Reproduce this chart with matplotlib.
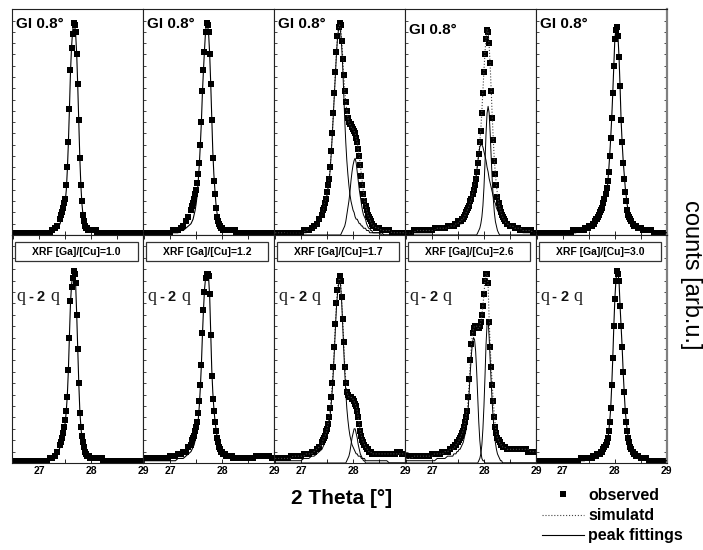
import numpy as np
import matplotlib
matplotlib.use('Agg')
import matplotlib.pyplot as plt
from matplotlib.patches import Rectangle
from matplotlib.lines import Line2D

plt.rcParams['font.family'] = ['Liberation Sans', 'DejaVu Sans']

# 2theta grid: 0.05 deg steps in the tails, 0.02 deg across the peak region
two_theta = np.round(np.r_[np.arange(26.50, 27.36, 0.05),
                           np.arange(27.40, 28.41, 0.02),
                           np.arange(28.45, 29.01, 0.05)], 2)

# intensities in % of each panel height (left tail / core / right tail)
# --- top row: GI 0.8 deg
obs_t1 = ([1] * 15 + [2, 3, 4]
          + [7, 9, 10, 12, 14, 16, 22, 30, 41, 56, 73, 83, 89, 94, 93, 90, 80, 67, 51, 34,
             22, 15, 9, 6, 4, 3, 3, 2, 2, 2, 2, 2, 2, 2, 2, 2] + [1] * 15
          + [1] * 12)
sim_t1 = ([1] * 15 + [2, 2, 3]
          + [5, 7, 8, 10, 12, 15, 20, 29, 41, 56, 72, 83, 90, 94, 93, 89, 80, 66, 50, 34,
             22, 14, 9, 6, 4, 3, 2, 2, 2, 2, 2, 2, 2, 2] + [1] * 17
          + [1] * 12)

obs_t2 = ([1] * 11 + [2, 2, 2, 3, 4, 6, 8]
          + [11, 13, 14, 16, 18, 20, 23, 27, 32, 40, 50, 64, 73, 81, 90, 94, 93, 90, 80, 67,
             51, 34, 24, 18, 12, 8, 6, 5, 4, 3, 3] + [2] * 12 + [1] * 8
          + [1] * 12)
sim_t2 = ([1] * 14 + [2, 2, 3, 4]
          + [5, 6, 7, 9, 11, 14, 18, 24, 31, 40, 50, 63, 73, 82, 90, 94, 93, 89, 80, 67,
             52, 37, 27, 20, 14, 10, 7, 6, 5, 4, 3, 3, 3] + [2] * 10 + [1] * 8
          + [1] * 12)

obs_t3 = ([1] * 11 + [2, 2, 2, 3, 4, 5, 7]
          + [9, 11, 12, 14, 16, 19, 22, 25, 30, 37, 45, 54, 63, 72, 81, 88, 92, 94, 93, 86,
             78, 71, 64, 59, 55, 52, 50, 49, 49, 48, 47, 46, 45, 43, 41, 38, 35, 31, 26, 22,
             18, 15, 13, 11, 9, 8, 7, 6, 5, 4, 4]
          + [3, 3, 2, 2, 2, 2, 1, 1, 1, 1, 1, 1])
sim_t3 = ([1] * 12 + [2, 2, 2, 3, 4, 6]
          + [8, 10, 12, 14, 16, 18, 21, 25, 30, 37, 45, 54, 63, 72, 81, 88, 92, 93, 92, 87,
             79, 71, 64, 59, 55, 52, 50, 49, 48, 47, 47, 46, 45, 43, 41, 38, 35, 31, 27, 23,
             19, 16, 13, 11, 9, 8, 7, 6, 5, 4, 4]
          + [3, 3, 2, 2, 2, 2, 1, 1, 1, 1, 1, 1])
pk1_t3 = ([0] * 4 + [1] * 9 + [2, 2, 3, 4, 6]
          + [8, 10, 11, 13, 15, 18, 21, 24, 29, 36, 44, 53, 62, 71, 80, 87, 91, 92, 90, 84,
             75, 63, 51, 41, 33, 27, 22, 18, 15, 13, 11, 10, 8, 7, 7, 6, 5, 5, 4, 4,
             3, 3, 3, 2, 2, 2, 1, 1, 1, 1, 1]
          + [1, 1, 1] + [0] * 9)
pk2_t3 = ([0] * 18
          + [0] * 19 + [1, 2, 3, 4, 6, 9, 12, 15, 19, 24, 28, 31, 33, 34, 32, 28, 24, 20, 17, 14,
                        11, 9, 8, 7, 5, 4, 3, 3, 2, 2, 1, 1]
          + [1, 1] + [0] * 10)

obs_t4 = ([1, 1, 1] + [2] * 8 + [3] * 5 + [4, 4]
          + [4, 4, 5, 5, 5, 6, 6, 6, 6, 7, 7, 8, 9, 10, 11, 12, 13, 15, 16, 18,
             20, 22, 25, 28, 32, 36, 41, 46, 54, 63, 72, 80, 87, 91, 90, 85, 76, 64, 52, 42,
             33, 27, 22, 17, 14, 12, 10, 9, 8, 7, 6]
          + [5, 4, 4, 3, 3, 2, 2, 2, 2, 2, 1, 1])
sim_t4 = ([1] * 4 + [2] * 8 + [3] * 5 + [4]
          + [4, 4, 4, 5, 5, 5, 6, 6, 6, 7, 7, 8, 9, 10, 11, 12, 13, 14, 16, 18,
             20, 22, 25, 28, 32, 36, 41, 47, 55, 64, 73, 81, 87, 91, 90, 84, 75, 64, 52, 42,
             33, 27, 22, 18, 15, 12, 11, 9, 8, 7, 6]
          + [5, 4, 4, 3, 3, 3, 2, 2, 2, 2, 1, 1])
pk1_t4 = ([1] * 11 + [2] * 5 + [3, 3]
          + [3, 3, 3, 4, 4, 4, 4, 5, 5, 5, 6, 6, 7, 8, 9, 10, 11, 12, 14, 16,
             18, 21, 24, 28, 32, 36, 39, 40, 40, 39, 37, 35, 33, 30, 28, 25, 23, 21, 19, 17,
             15, 14, 12, 11, 10, 9, 8, 7, 6, 5, 5]
          + [4, 3, 3, 2, 2, 2, 1, 1, 1, 1, 1, 1])
pk2_t4 = ([0] * 18
          + [0] * 24 + [1, 2, 3, 5, 8, 13, 21, 32, 45, 54, 57, 54, 45, 34, 24, 16, 10, 6, 4, 2, 1]
          + [0] * 6 + [0] * 12)

obs_t5 = ([1] * 14 + [2] * 4
          + [2, 3, 3, 3, 3, 4, 4, 4, 4, 5, 5, 6, 7, 7, 8, 9, 10, 11, 12, 14,
             16, 18, 21, 24, 28, 35, 43, 52, 63, 75, 87, 91, 92, 88, 79, 66, 51, 41, 32, 25,
             19, 15, 11, 9, 8, 7, 6, 5, 4, 4, 4]
          + [3, 3, 2, 2, 2, 2, 1, 1, 1, 1, 1, 1])
sim_t5 = ([1] * 16 + [2, 2]
          + [2, 2, 2, 3, 3, 3, 3, 4, 4, 4, 4, 5, 5, 6, 6, 7, 8, 9, 10, 11,
             13, 15, 18, 22, 28, 35, 43, 52, 63, 75, 87, 91, 92, 88, 79, 66, 51, 41, 33, 27,
             21, 17, 13, 11, 9, 8, 7, 6, 5, 4, 4]
          + [3, 3, 2, 2, 2, 2, 1, 1, 1, 1, 1, 1])

# --- bottom row: theta - 2 theta
obs_b1 = ([1] * 14 + [2, 2, 3, 5]
          + [8, 9, 11, 13, 16, 19, 23, 29, 41, 55, 71, 77, 81, 84, 83, 79, 65, 50, 35, 22,
             16, 12, 9, 7, 5, 4, 3, 3, 3, 2, 2] + [2] * 10 + [1] * 10
          + [1] * 12)
sim_b1 = ([1] * 15 + [2, 3, 4]
          + [7, 8, 10, 12, 15, 18, 23, 30, 41, 56, 70, 78, 82, 84, 83, 78, 65, 50, 35, 23,
             16, 11, 8, 6, 5, 4, 3, 3, 2, 2, 2] + [2] * 8 + [1] * 12
          + [1] * 12)

obs_b2 = ([2] * 10 + [3, 3, 3, 4, 4, 5, 5, 7]
          + [8, 10, 11, 12, 14, 16, 18, 22, 27, 34, 43, 57, 67, 75, 81, 83, 83, 82, 74, 56,
             38, 28, 23, 18, 14, 11, 9, 7, 6, 5, 5, 4, 4, 4, 3, 3, 3, 3, 3, 3] + [2] * 11
          + [2, 2, 2, 2, 3, 3, 3, 3, 3, 3, 2, 2])
sim_b2 = ([1] * 13 + [2, 2, 2, 3, 4]
          + [5, 6, 7, 8, 10, 12, 15, 19, 25, 33, 43, 56, 67, 76, 81, 83, 83, 81, 73, 57,
             41, 31, 24, 19, 15, 12, 9, 7, 6, 5, 4, 4, 3, 3, 3, 2] + [2] * 15
          + [2, 2, 2, 2, 3, 3, 3, 3, 3, 2, 2, 2])

obs_b3 = ([2] * 6 + [3] * 5 + [4, 4, 4, 5, 5, 6, 7]
          + [9, 10, 11, 12, 14, 15, 17, 20, 24, 29, 35, 42, 51, 61, 70, 76, 80, 82, 80, 73,
             63, 53, 42, 35, 31, 30, 29, 29, 29, 28, 28, 27, 26, 25, 23, 20, 17, 14, 12, 10,
             9, 8, 7, 6, 6, 5, 5, 5, 4, 4, 4]
          + [4] * 8 + [5, 5, 4, 4])
sim_b3 = ([2] * 7 + [3] * 5 + [4, 4, 4, 5, 6, 7]
          + [8, 10, 11, 12, 13, 15, 17, 20, 24, 29, 35, 42, 51, 61, 70, 76, 80, 81, 79, 72,
             63, 53, 43, 36, 31, 30, 29, 29, 29, 28, 28, 27, 26, 25, 23, 20, 17, 14, 12, 10,
             9, 8, 7, 6, 6, 5, 5, 5, 4, 4, 4]
          + [4] * 12)
pk1_b3 = ([1] * 11 + [2, 2, 2, 3, 3, 4, 5]
          + [6, 7, 8, 9, 11, 12, 14, 17, 21, 26, 32, 40, 49, 59, 68, 74, 78, 80, 78, 71,
             61, 50, 40, 31, 24, 19, 15, 12, 10, 8, 7, 6, 5, 4, 4, 3, 3, 3, 2, 2,
             2, 2, 1, 1, 1, 1, 1, 1, 1, 1, 1]
          + [1] * 5 + [0] * 7)
pk2_b3 = ([0] * 18
          + [0] * 24 + [1, 2, 3, 5, 8, 11, 13, 15, 15, 13, 11, 8, 6, 4, 3, 2, 1, 1] + [0] * 9
          + [0] * 12)

obs_b4 = ([3] * 10 + [4] * 4 + [5, 5, 5, 6]
          + [7, 7, 8, 8, 9, 9, 10, 11, 12, 13, 14, 16, 18, 20, 23, 29, 37, 45, 52, 57,
             59, 60, 60, 60, 59, 59, 60, 62, 65, 69, 74, 80, 83, 83, 79, 62, 51, 42, 34, 27,
             20, 16, 13, 11, 10, 9, 8, 8, 7, 7, 7]
          + [6] * 8 + [5] * 4)
sim_b4 = ([2] * 3 + [3] * 8 + [4] * 4 + [5, 5, 6]
          + [6, 7, 7, 8, 8, 9, 10, 11, 12, 13, 14, 16, 18, 21, 24, 29, 37, 45, 52, 57,
             59, 60, 60, 60, 59, 59, 60, 62, 65, 69, 74, 80, 83, 83, 78, 63, 51, 42, 34, 27,
             21, 16, 13, 11, 10, 9, 8, 8, 7, 7, 7]
          + [6] * 9 + [5] * 3)
pk1_b4 = ([1] * 12 + [2] * 4 + [3, 3]
          + [3, 4, 4, 4, 5, 5, 6, 6, 7, 8, 9, 11, 13, 15, 19, 25, 33, 41, 48, 53,
             55, 54, 49, 40, 29, 18, 10, 5, 2, 1, 1] + [0] * 20
          + [0] * 12)
pk2_b4 = ([0] * 18
          + [0] * 25 + [1, 2, 4, 8, 15, 25, 38, 52, 61, 63, 55, 45, 35, 26, 19, 13, 9, 6, 4, 3,
                        2, 1, 1] + [0] * 3
          + [0] * 12)

obs_b5 = ([1] * 17 + [2]
          + [2] * 9 + [3] * 4 + [4] * 4 + [5, 5]
          + [6, 7, 8, 9, 11, 14, 18, 24, 34, 46, 60, 72, 80, 84, 83, 80, 69, 60, 51, 40,
             31, 23, 18, 14, 11, 9, 7, 6, 5, 4, 4, 3]
          + [3, 2, 2, 2, 1, 1, 1, 1, 1, 1, 1, 1])
sim_b5 = ([1] * 18
          + [1, 1] + [2] * 9 + [3] * 4 + [4] * 3 + [5, 5]
          + [6, 7, 8, 10, 13, 18, 24, 34, 46, 60, 72, 80, 84, 83, 80, 69, 60, 51, 40,
             31, 23, 18, 14, 11, 9, 7, 6, 5, 4, 4, 3]
          + [3, 2, 2, 2, 1, 1, 1, 1, 1, 1, 1, 1])

ratios = ['1.0', '1.2', '1.7', '2.6', '3.0']
top_row = [(obs_t1, sim_t1, []), (obs_t2, sim_t2, []), (obs_t3, sim_t3, [pk1_t3, pk2_t3]),
           (obs_t4, sim_t4, [pk1_t4, pk2_t4]), (obs_t5, sim_t5, [])]
bottom_row = [(obs_b1, sim_b1, []), (obs_b2, sim_b2, []), (obs_b3, sim_b3, [pk1_b3, pk2_b3]),
              (obs_b4, sim_b4, [pk1_b4, pk2_b4]), (obs_b5, sim_b5, [])]

W, H = 703, 550
fig = plt.figure(figsize=(W / 100, H / 100), dpi=100)

left0, pw = 12.3 / W, 130.9 / W
row_box = {'top': (1 - 235 / H, 225.7 / H), 'bottom': (1 - 463 / H, 228 / H)}

serif = dict(family=['Liberation Serif', 'DejaVu Serif'], size=13, color='#222222')
sans = dict(size=10.5, weight='bold', color='#111111')


def draw_panel(ax, obs, sim, peaks):
    ax.plot(two_theta, obs, 's', ms=3.8, mew=0, color='black', zorder=2)
    if peaks:
        ax.plot(two_theta, sim, ':', lw=0.8, color='#444444', zorder=3)
        for pk in peaks:
            ax.plot(two_theta, pk, '-', lw=0.7, color='black', zorder=3)
    else:
        ax.plot(two_theta, sim, '-', lw=0.8, color='black', zorder=3)


for row, data in (('top', top_row), ('bottom', bottom_row)):
    b, h = row_box[row]
    for col, (obs, sim, peaks) in enumerate(data):
        ax = fig.add_axes([left0 + col * pw, b, pw, h])
        draw_panel(ax, obs, sim, peaks)
        ax.set_xlim(26.48, 29.0)
        ax.set_ylim(0, 100)
        ax.set_xticks([27, 28, 29])
        ax.set_xticks([26.5, 27.5, 28.5], minor=True)
        ax.set_yticks(np.arange(0, 101, 5))
        ax.tick_params(axis='x', which='both', direction='in', length=3, width=0.6,
                       top=(row == 'bottom'), pad=2)
        ax.tick_params(axis='y', direction='in', length=2, width=0.5, labelleft=False,
                       right=(col == 4))
        for sp in ax.spines.values():
            sp.set_linewidth(0.8)
            sp.set_color('#222222')
        if col == 4:
            ax.spines['right'].set_color('#808080')
            ax.spines['right'].set_linewidth(1.6)
        if row == 'top':
            ax.set_xticklabels([])
            ax.text(0.03, 0.965 if col != 3 else 0.94, 'GI 0.8°', transform=ax.transAxes,
                    ha='left', va='top', fontsize=11, fontweight='bold')
        else:
            ax.set_xticklabels(['27', '28', '29'], fontsize=7.5, fontweight='bold')
            ax.add_patch(Rectangle((0.022, 0.885), 0.935, 0.085, transform=ax.transAxes,
                                   fill=False, lw=0.9, edgecolor='#333333', zorder=4))
            ax.text(0.49, 0.927, 'XRF [Ga]/[Cu]=' + ratios[col], transform=ax.transAxes,
                    ha='center', va='center', fontsize=7.5, fontweight='bold', zorder=5)
            for xf, s, kw in ((0.034, 'q', serif), (0.12, '-', sans),
                              (0.186, '2', sans), (0.288, 'q', serif)):
                ax.text(xf, 0.71, s, transform=ax.transAxes, ha='left', va='baseline', **kw)

fig.text(342 / W, 1 - 499 / H, '2 Theta [°]', ha='center', va='center',
         fontsize=15, fontweight='bold')
fig.text(691 / W, 1 - 275 / H, 'counts [arb.u.]', ha='center', va='center',
         rotation=270, fontsize=17)

handles = [Line2D([], [], ls='none', marker='s', ms=5, mew=0, color='black'),
           Line2D([], [], ls=':', lw=0.8, color='#444444'),
           Line2D([], [], ls='-', lw=0.8, color='black')]
fig.legend(handles, ['observed', 'simulatd', 'peak fittings'], loc='upper left',
           bbox_to_anchor=(542 / W, 1 - 488 / H), frameon=False,
           prop={'weight': 'bold', 'size': 11.5}, handlelength=2.6, handletextpad=0.3,
           labelspacing=0.32, borderaxespad=0, borderpad=0)

fig.savefig('out.png', dpi=100)
